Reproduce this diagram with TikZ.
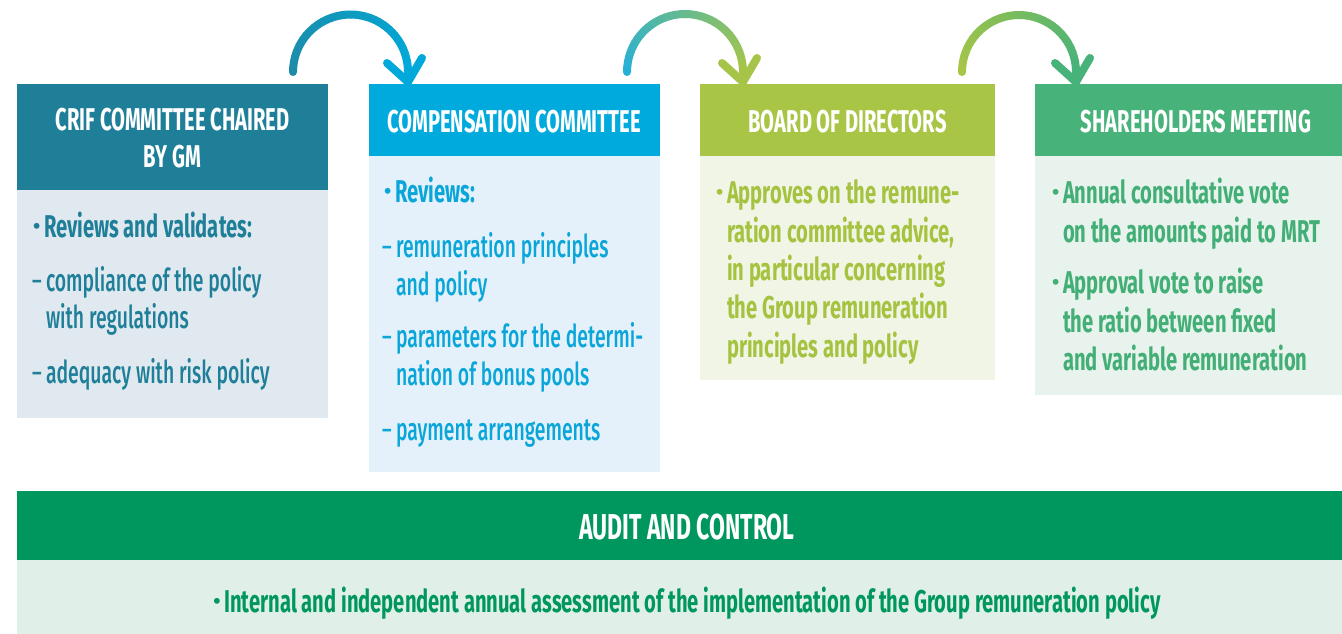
\documentclass[tikz,border=0pt]{standalone}
\usepackage{graphicx}
\usepackage{fontspec}
\setmainfont{Fira Sans}[FakeStretch=0.64]
\IfFontExistsTF{Fira Sans Medium}
  {\newfontfamily\regfont{Fira Sans Medium}[FakeStretch=0.615]}
  {\newfontfamily\regfont{Fira Sans}[FakeStretch=0.63]}
\usetikzlibrary{calc}
\definecolor{h1c}{HTML}{1F7F99}
\definecolor{b1c}{HTML}{E1E9F0}
\definecolor{t1c}{HTML}{1F7F99}
\definecolor{h2c}{HTML}{00AADC}
\definecolor{b2c}{HTML}{E4F1FA}
\definecolor{t2c}{HTML}{0AA6D9}
\definecolor{h3c}{HTML}{A8C545}
\definecolor{b3c}{HTML}{F1F5E6}
\definecolor{t3c}{HTML}{A5C340}
\definecolor{h4c}{HTML}{47B27A}
\definecolor{b4c}{HTML}{E7F3EC}
\definecolor{t4c}{HTML}{43AF77}
\definecolor{h5c}{HTML}{00975E}
\definecolor{b5c}{HTML}{E0F0E8}
\definecolor{t5c}{HTML}{00975E}
\definecolor{a1a}{HTML}{1D8BA8}
\definecolor{a1b}{HTML}{00A9DA}
\definecolor{a2a}{HTML}{27B0D6}
\definecolor{a2b}{HTML}{A6C548}
\definecolor{a3a}{HTML}{A8C545}
\definecolor{a3b}{HTML}{47B27A}
\newcommand\bul{\makebox[11pt][l]{\raisebox{3.5pt}{\scalebox{1.55}[1.0]{\fontsize{21}{21}\selectfont\textbullet}}}}
\newcommand\dsh{\makebox[14pt][l]{\raisebox{2pt}{\scalebox{0.95}[0.8]{–}}}}
\tikzset{
  every node/.style={inner sep=0pt, outer sep=0pt},
  panel/.style={rectangle, anchor=north west, draw=none},
  ttl/.style={text=white, font=\bfseries\fontsize{31.5}{37}\selectfont, anchor=base},
  bodyb/.style={font=\bfseries\fontsize{31.5}{37}\selectfont, anchor=base west},
  bodyr/.style={font=\regfont\fontsize{31.5}{37}\selectfont, anchor=base west},
  arcline/.style={line width=8pt, line cap=round, line join=round},
}
\begin{document}
\begin{tikzpicture}[x=1pt,y=-1pt]
\useasboundingbox (0,0) rectangle (1342,634);
% panels
\node[panel, fill=h1c, minimum width=311pt, minimum height=106pt] (h1) at (17,84) {};
\node[panel, fill=b1c, minimum width=311pt, minimum height=228pt] (p1) at (17,190) {};
\node[panel, fill=h2c, minimum width=291pt, minimum height=72pt] (h2) at (369,84) {};
\node[panel, fill=b2c, minimum width=291pt, minimum height=316pt] (p2) at (369,156) {};
\node[panel, fill=h3c, minimum width=295pt, minimum height=72pt] (h3) at (700,84) {};
\node[panel, fill=b3c, minimum width=295pt, minimum height=224pt] (p3) at (700,156) {};
\node[panel, fill=h4c, minimum width=307pt, minimum height=72pt] (h4) at (1035,84) {};
\node[panel, fill=b4c, minimum width=307pt, minimum height=239pt] (p4) at (1035,156) {};
\node[panel, fill=h5c, minimum width=1325pt, minimum height=69pt] (h5) at (17,491) {};
\node[panel, fill=b5c, minimum width=1325pt, minimum height=74pt] (p5) at (17,560) {};
% titles
\node[ttl] (t1a) at (172.5,130) {CRIF COMMITTEE CHAIRED};
\node[ttl] (t1b) at (172.5,167) {BY GM};
\node[ttl] (t2) at (514,132) {COMPENSATION COMMITTEE};
\node[ttl] (t3) at (847.5,132) {BOARD OF DIRECTORS};
\node[ttl] (t4) at (1196,132) {SHAREHOLDERS MEETING};
\node[ttl, font=\bfseries\fontsize{36}{40}\selectfont] (t5) at (687,539) {AUDIT AND CONTROL};
% box 1
\node[bodyb, text=t1c] (b1l1) at (33,237) {\bul Reviews and validates:};
\node[bodyr, text=t1c] (b1l2) at (32,291) {\dsh compliance of the policy};
\node[bodyr, text=t1c] (b1l3) at (46,328) {with regulations};
\node[bodyr, text=t1c] (b1l4) at (32,383) {\dsh adequacy with risk policy};
% box 2
\node[bodyb, text=t2c] (b2l1) at (384,202) {\bul Reviews:};
\node[bodyr, text=t2c] (b2l2) at (382,257) {\dsh remuneration principles};
\node[bodyr, text=t2c] (b2l3) at (396,295) {and policy};
\node[bodyr, text=t2c] (b2l4) at (382,347) {\dsh parameters for the determi-};
\node[bodyr, text=t2c] (b2l5) at (396,385) {nation of bonus pools};
\node[bodyr, text=t2c] (b2l6) at (382,440) {\dsh payment arrangements};
% box 3
\node[bodyb, text=t3c] (b3l1) at (716,203) {\bul Approves on the remune-};
\node[bodyb, text=t3c] (b3l2) at (727,242) {ration committee advice,};
\node[bodyb, text=t3c] (b3l3) at (727,280) {in particular concerning};
\node[bodyb, text=t3c] (b3l4) at (727,318) {the Group remuneration};
\node[bodyb, text=t3c] (b3l5) at (727,357) {principles and policy};
% box 4
\node[bodyb, text=t4c] (b4l1) at (1052,203) {\bul Annual consultative vote};
\node[bodyb, text=t4c] (b4l2) at (1063,242) {on the amounts paid to MRT};
\node[bodyb, text=t4c] (b4l3) at (1052,293) {\bul Approval vote to raise};
\node[bodyb, text=t4c] (b4l4) at (1063,332) {the ratio between fixed};
\node[bodyb, text=t4c] (b4l5) at (1063,370) {and variable remuneration};
% bottom
\node[bodyb, text=t5c, anchor=base] (b5l1) at (687,612) {\bul Internal and independent annual assessment of the implementation of the Group remuneration policy};
% arrows
\foreach \n/\cx/\r/\ca/\cb in {1/350.5/57.5/a1a/a1b, 2/685/58/a2a/a2b, 3/1019/57/a3a/a3b}{
  \coordinate (c\n) at (\cx,72);
  \coordinate (s\n) at ($(c\n)+(180:\r pt)$);
  \coordinate (e\n) at ($(c\n)+(0:\r pt)$);
  \coordinate (tip\n) at ($(e\n)+(0,10)$);
  \fill[\ca] (s\n) circle (4pt);
  \foreach \i in {0,...,35}{
    \pgfmathsetmacro\sa{180-5*\i}
    \pgfmathsetmacro\ea{180-5*\i-5.6}
    \pgfmathtruncatemacro\pc{100-100*\i/35}
    \draw[line width=8pt, color=\ca!\pc!\cb] ($(c\n)+(\sa:\r pt)$) arc[start angle=\sa, end angle=\ea, radius=\r pt];
  }
  \draw[arcline, \cb] (e\n) -- (tip\n);
  \draw[arcline, \cb] ($(tip\n)+(-21,-19)$) -- (tip\n) -- ($(tip\n)+(14,-24)$);
}
\end{tikzpicture}
\end{document}
